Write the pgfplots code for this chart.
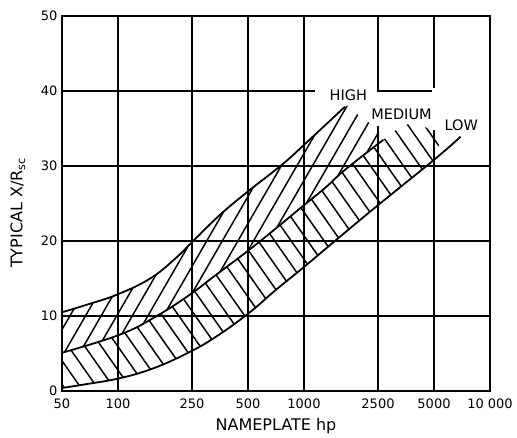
\documentclass[border=0pt]{standalone}
\usepackage{fontspec}
\setmainfont{DejaVu Sans}
\usepackage{pgfplots}
\usepackage{pgfplotstable}
\pgfplotsset{compat=1.18}
\usepgfplotslibrary{fillbetween}
\usetikzlibrary{patterns.meta}

\pgfplotstableread{
x y
50 10.5
70 11.6
100 12.9
149 15.0
202 17.6
256 20.1
354 23.5
499 26.6
764 30.2
1029 33.1
1659 37.9
}\high
\pgfplotstableread{
x y
50 10.5
70 11.6
100 12.9
149 15.0
202 17.6
256 20.1
354 23.5
499 26.6
764 30.2
1029 33.1
1659 37.9
1985 36.6
2438 35.2
}\hightop
\pgfplotstableread{
x y
50 5.1
102 7.5
159 9.9
242 12.8
329 15.3
500 18.7
692 21.5
980 24.6
1315 27.2
1663 29.5
2672 33.5
}\medium
\pgfplotstableread{
x y
50 5.1
102 7.5
159 9.9
242 12.8
329 15.3
500 18.7
692 21.5
980 24.6
1315 27.2
1663 29.5
2672 33.5
3450 35.4
4160 35.4
4865 34.7
5410 33.6
}\mediumtop
\pgfplotstableread{
x y
50 0.4
67 0.9
102 1.7
154 3.0
234 5.0
330 7.1
500 10.3
700 13.4
1007 16.6
1550 20.5
2478 24.7
5100 31.0
6943 33.9
}\low
\pgfplotstableread{
x y
50 0.4
67 0.9
102 1.7
154 3.0
234 5.0
330 7.1
500 10.3
700 13.4
1007 16.6
1550 20.5
2478 24.7
5100 31.0
}\lowcut

\begin{document}
\begin{tikzpicture}
\begin{axis}[
  width=428pt, height=375pt, scale only axis,
  xmode=log, xmin=50, xmax=10000,
  ymin=0, ymax=50,
  xtick={50,100,250,500,1000,2500,5000,10000},
  xticklabels={50,100,250,500,1000,2500,5000,10 000},
  ytick={0,10,20,30,40,50},
  grid=major,
  major grid style={black, line width=1.6pt},
  axis line style={black, line width=2pt},
  major tick length=0pt,
  tick label style={font=\fontsize{13}{15}\selectfont},
  xticklabel style={yshift=-4pt},
  yticklabel style={xshift=-1pt},
  /pgf/number format/assume math mode=true,
  xlabel={NAMEPLATE hp},
  ylabel={TYPICAL X/R\textsubscript{sc}},
  label style={font=\fontsize{16}{19}\selectfont},
  xlabel style={at={(axis description cs:0.5,-0.093)}, anchor=center},
  ylabel style={at={(axis description cs:-0.103,0.475)}, anchor=center},
]
\fill[white] (axis cs:1150,39.4) rectangle (axis cs:2470,40.6);
\fill[white] (axis cs:2380,35.3) rectangle (axis cs:2620,39.8);
\fill[white] (axis cs:4900,34.8) rectangle (axis cs:9850,40.45);

\addplot[name path=hightop, draw=none, smooth, tension=0.7, forget plot] table {\hightop};
\addplot[name path=mediumtop, draw=none, smooth, tension=0.7, forget plot] table {\mediumtop};
\addplot[name path=lowcut, draw=none, smooth, tension=0.7, forget plot] table {\lowcut};
\addplot[name path=medium, draw=none, smooth, tension=0.7, forget plot] table {\medium};

\addplot[pattern={Lines[angle=60,distance=13.5pt,line width=1.5pt]}, pattern color=black, draw=none] fill between[of=hightop and medium];
\addplot[pattern={Lines[angle=125,distance=13.5pt,line width=1.5pt]}, pattern color=black, draw=none] fill between[of=mediumtop and lowcut];

\addplot[black, line width=1.8pt, smooth, tension=0.7] table {\high};
\addplot[black, line width=1.8pt, smooth, tension=0.7] table {\medium};
\addplot[black, line width=1.8pt, smooth, tension=0.7] table {\low};

\node[font=\fontsize{14.5}{17}\selectfont] at (axis cs:1733,39.4) {HIGH};
\node[font=\fontsize{14.5}{17}\selectfont] at (axis cs:3344,36.9) {MEDIUM};
\node[font=\fontsize{14.5}{17}\selectfont] at (axis cs:7000,35.4) {LOW};
\end{axis}
\path ([shift={(-62pt,-46pt)}]current axis.south west) rectangle ([shift={(27pt,16pt)}]current axis.north east);
\end{tikzpicture}
\end{document}
